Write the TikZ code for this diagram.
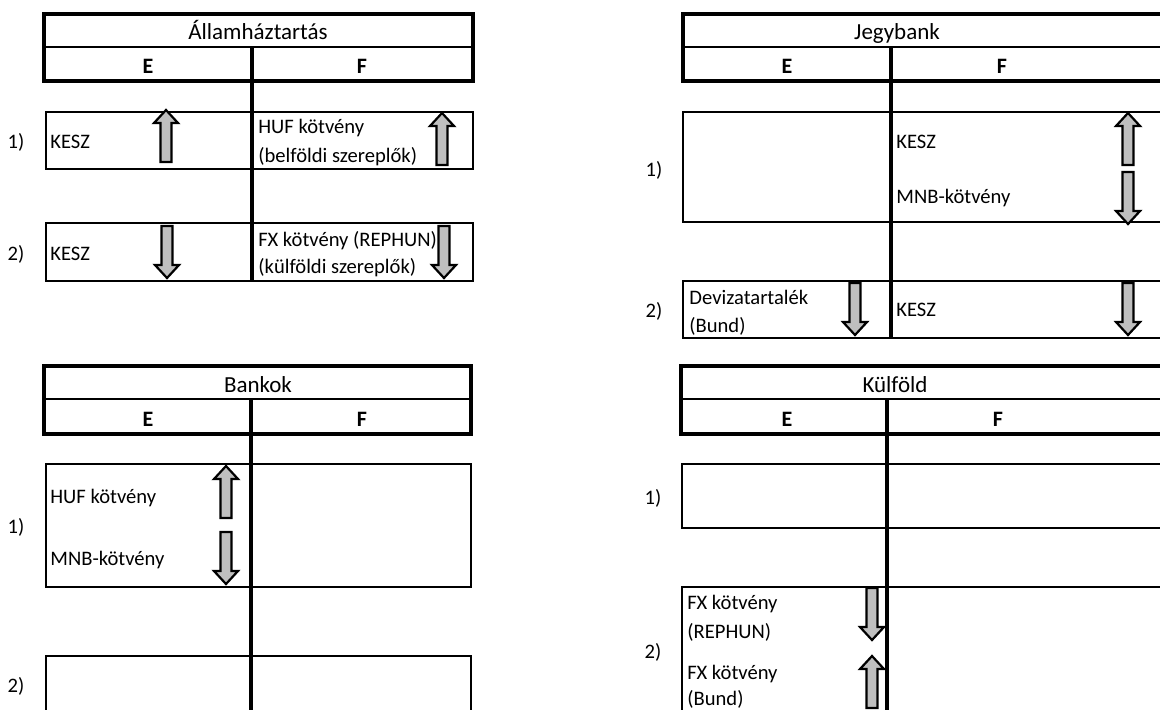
\documentclass[tikz,border=0pt]{standalone}
\usepackage{fontspec}
\setmainfont{Carlito}
\tikzset{
  hdrbox/.style={line width=2pt},
  thinline/.style={line width=1pt},
  cellbox/.style={line width=1pt},
  midline/.style={line width=1.7pt},
  txt/.style={anchor=base west, inner sep=0pt},
  ctxt/.style={anchor=base, inner sep=0pt},
  ttl/.style={anchor=base, inner sep=0pt, font=\fontsize{11.5}{13}\selectfont},
  colhd/.style={anchor=base, inner sep=0pt, font=\fontsize{11}{13}\selectfont\bfseries},
  blockup/.pic={\draw[line width=1.1pt, fill=black!25]
    (0,0) -- (12,13) -- (5.5,13) -- (5.5,52) -- (-5.5,52) -- (-5.5,13) -- (-12,13) -- cycle;},
  blockdown/.pic={\draw[line width=1.1pt, fill=black!25]
    (0,52) -- (12,39) -- (5.5,39) -- (5.5,0) -- (-5.5,0) -- (-5.5,39) -- (-12,39) -- cycle;}
}
\begin{document}
\begin{tikzpicture}[x=0.5pt, y=-0.5pt, font=\fontsize{10.3}{13}\selectfont]
\path[use as bounding box] (0,0) rectangle (1160,709);
\clip (0,0) rectangle (1160,709);

% Allamhaztartas
\draw[hdrbox] (44,14) rectangle (473,81);
\draw[thinline] (44,47) -- (473,47);
\draw[midline] (252,47) -- (252,281);
\draw[cellbox] (46,112) rectangle (473,169);
\draw[cellbox] (46,223) rectangle (473,281);
\node[ttl] (ahtitle) at (258,39) {Államháztartás};
\node[colhd] (ahE) at (148,73) {E};
\node[colhd] (ahF) at (362,73) {F};
\node[ctxt] (ah1) at (16,148) {1)};
\node[ctxt] (ah2) at (16,260) {2)};
\node[txt] (ahkesz1) at (50,148) {KESZ};
\node[txt] (ahhuf) at (258,133) {HUF kötvény};
\node[txt] (ahbel) at (258,162) {(belföldi szereplők)};
\node[txt] (ahkesz2) at (50,260) {KESZ};
\node[txt] (ahfx) at (258,246) {FX kötvény (REPHUN)};
\node[txt] (ahkul) at (258,273) {(külföldi szereplők)};
\pic at (166,110) {blockup};
\pic at (442,113) {blockup};
\pic at (167,226) {blockdown};
\pic at (444,226) {blockdown};

% Jegybank
\draw[hdrbox] (1175,14) -- (683,14) -- (683,81) -- (1175,81);
\draw[thinline] (683,47) -- (1175,47);
\draw[midline] (891,47) -- (891,338);
\draw[cellbox] (1175,112) -- (683,112) -- (683,222) -- (1175,222);
\draw[cellbox] (1175,281) -- (683,281) -- (683,338) -- (1175,338);
\node[ttl] (jbtitle) at (897,39) {Jegybank};
\node[colhd] (jbE) at (787,73) {E};
\node[colhd] (jbF) at (1002,73) {F};
\node[ctxt] (jb1) at (654,176) {1)};
\node[ctxt] (jb2) at (654,317) {2)};
\node[txt] (jbkesz1) at (896,148) {KESZ};
\node[txt] (jbmnb) at (896,203) {MNB-kötvény};
\node[txt] (jbdev) at (689,304) {Devizatartalék};
\node[txt] (jbbund) at (689,332) {(Bund)};
\node[txt] (jbkesz2) at (896,316) {KESZ};
\pic at (1128,113) {blockup};
\pic at (1128,172) {blockdown};
\pic at (855,283) {blockdown};
\pic at (1128,283) {blockdown};

% Bankok
\draw[hdrbox] (44,366) rectangle (471,434);
\draw[thinline] (44,399) -- (471,399);
\draw[midline] (251,399) -- (251,720);
\draw[cellbox] (46,464) rectangle (471,587);
\draw[cellbox] (46,720) -- (46,656) -- (471,656) -- (471,720);
\node[ttl] (bktitle) at (258,392) {Bankok};
\node[colhd] (bkE) at (148,426) {E};
\node[colhd] (bkF) at (362,426) {F};
\node[ctxt] (bk1) at (16,533) {1)};
\node[ctxt] (bk2) at (16,692) {2)};
\node[txt] (bkhuf) at (50,503) {HUF kötvény};
\node[txt] (bkmnb) at (50,565) {MNB-kötvény};
\pic at (226,466) {blockup};
\pic at (226,532) {blockdown};

% Kulfold
\draw[hdrbox] (1175,366) -- (681,366) -- (681,434) -- (1175,434);
\draw[thinline] (681,399) -- (1175,399);
\draw[midline] (887,399) -- (887,720);
\draw[cellbox] (1175,464) -- (682,464) -- (682,528) -- (1175,528);
\draw[cellbox] (1175,587) -- (682,587) -- (682,720);
\node[ttl] (kftitle) at (895,392) {Külföld};
\node[colhd] (kfE) at (787,426) {E};
\node[colhd] (kfF) at (998,426) {F};
\node[ctxt] (kf1) at (653,504) {1)};
\node[ctxt] (kf2) at (653,658) {2)};
\node[txt] (kffx1) at (687,609) {FX kötvény};
\node[txt] (kfrep) at (687,638) {(REPHUN)};
\node[txt] (kffx2) at (687,679) {FX kötvény};
\node[txt] (kfbund) at (687,705) {(Bund)};
\pic at (872,588) {blockdown};
\pic at (872,656) {blockup};
\end{tikzpicture}
\end{document}
